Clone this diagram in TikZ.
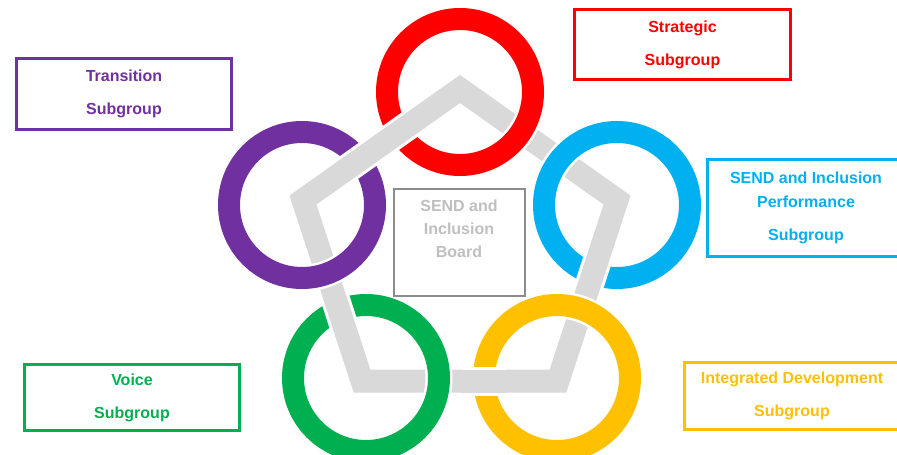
\documentclass[tikz,border=0pt]{standalone}
\usepackage{fontspec}
\setmainfont{Liberation Sans}
\usetikzlibrary{calc}
\definecolor{cRed}{HTML}{FF0000}
\definecolor{cPurple}{HTML}{7030A0}
\definecolor{cCyan}{HTML}{00B0F0}
\definecolor{cGreen}{HTML}{00B050}
\definecolor{cYellow}{HTML}{FFC000}
\definecolor{cBand}{HTML}{D9D9D9}
\definecolor{cFrame}{HTML}{8C8C8C}
\definecolor{cBoardText}{HTML}{BFBFBF}
\begin{document}
\begin{tikzpicture}[x=1pt,y=-1pt,
  band/.style={cBand,line width=23pt},
  bandhalo/.style={white,line width=29pt},
  ringnode/.style={circle,inner sep=0pt,outer sep=0pt,minimum size=146pt,line width=22pt,
                   preaction={draw=white,line width=27pt}},
  subbox/.style={draw,line width=2.8pt,align=center,inner sep=0pt,
                 font=\fontsize{16}{33}\selectfont\bfseries},
]
\useasboundingbox (0,0) rectangle (897,455);

% pentagon vertices
\coordinate (pT)  at (460,89);
\coordinate (pL)  at (303,200);
\coordinate (pR)  at (617,200);
\coordinate (pBL) at (362,381);
\coordinate (pBR) at (558,381);

% grey band
\draw[band,line join=miter] (pT) -- (pL) -- (pBL) -- (pBR) -- (pR) -- cycle;

% rings
\node[ringnode,draw=cRed]    (redring)    at (460,92)  {};
\node[ringnode,draw=cPurple] (purplering) at (302,205) {};
\node[ringnode,draw=cCyan]   (cyanring)   at (617,205) {};
\node[ringnode,draw=cGreen]  (greenring)  at (366,378) {};
\node[ringnode,draw=cYellow] (yellowring) at (557,378) {};

% band passing over the rings
\foreach \a/\b in {pT/pL, pL/pT, pBL/pL, pBR/pBL, pR/pBR}{
  \draw[bandhalo] ($(\a)!52pt!(\b)$) -- ($(\a)!95pt!(\b)$);
  \draw[band]     ($(\a)!50pt!(\b)$) -- ($(\a)!97pt!(\b)$);
}

% subgroup boxes
\node[subbox,draw=cPurple,text=cPurple,minimum width=215pt,minimum height=71pt]
  (transition) at (124,94) {Transition\\Subgroup};
\node[subbox,draw=cRed,text=cRed,minimum width=216pt,minimum height=70pt]
  (strategic) at (682.5,44.5) {Strategic\\Subgroup};
\node[subbox,draw=cCyan,text=cCyan,minimum width=197pt,minimum height=97pt,
      font=\fontsize{16}{24}\selectfont\bfseries]
  (performance) at (806,208) {SEND and Inclusion\\Performance\\[9pt]Subgroup};
\node[subbox,draw=cGreen,text=cGreen,minimum width=215pt,minimum height=66pt]
  (voice) at (132,397.5) {Voice\\Subgroup};
\node[subbox,draw=cYellow,text=cYellow,minimum width=215pt,minimum height=67pt]
  (integrated) at (792,396) {Integrated Development\\Subgroup};

% board
\node[draw=cFrame,line width=1.6pt,minimum width=131pt,minimum height=107pt,inner sep=0pt]
  (board) at (459.5,242.5) {};
\node[text=cBoardText,align=center,font=\fontsize{16}{23}\selectfont\bfseries]
  (boardtext) at (459,229) {SEND and\\Inclusion\\Board};
\end{tikzpicture}
\end{document}
